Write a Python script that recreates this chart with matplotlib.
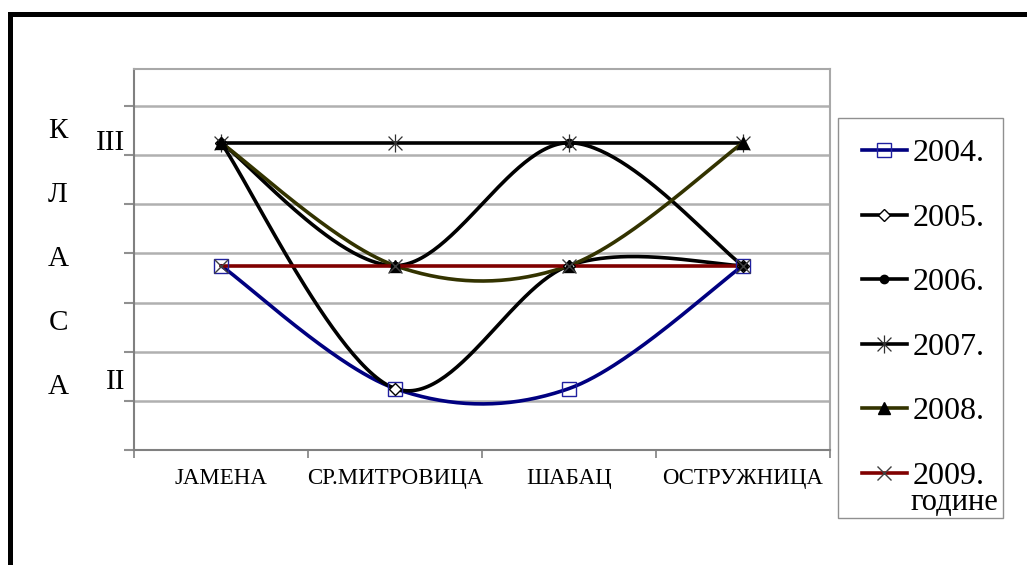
import numpy as np
import matplotlib
matplotlib.use('Agg')
import matplotlib.pyplot as plt
from matplotlib.path import Path
from matplotlib.patches import Rectangle
from matplotlib.ticker import FixedLocator, NullFormatter

plt.rcParams['font.family'] = ['Liberation Serif', 'DejaVu Serif']

cities = ['JAMEHA', 'СР.МИТРОВИЦА', 'ШАБАЦ', 'ОСТРУЖНИЦА']
years = ['2004.', '2005.', '2006.', '2007.', '2008.', '2009.']
# класа: 2 = II, 3 = III, 2.5 = II-III
y2004 = [2.5, 2, 2, 2.5]
y2005 = [3, 2, 2.5, 2.5]
y2006 = [3, 2.5, 3, 2.5]
y2007 = [3, 3, 3, 3]
y2008 = [3, 2.5, 2.5, 3]
y2009 = [2.5, 2.5, 2.5, 2.5]
class_labels = ['II', 'III']
class_values = [2, 3]
grid_vals = [1.75, 1.95, 2.15, 2.35, 2.55, 2.75, 2.95, 3.15]
side_letters = ['К', 'Л', 'А', 'С', 'А']


def smooth(ys, n=60):
    # excel-like catmull-rom bezier smoothing
    pts = np.array([[i, v] for i, v in enumerate(ys)], dtype=float)
    xs_out, ys_out = [], []
    m = len(pts)
    t = np.linspace(0, 1, n)[:, None]
    for i in range(m - 1):
        p0 = pts[max(i - 1, 0)]
        p1 = pts[i]
        p2 = pts[i + 1]
        p3 = pts[min(i + 2, m - 1)]
        c1 = p1 + (p2 - p0) / 6
        c2 = p2 - (p3 - p1) / 6
        b = (1 - t) ** 3 * p1 + 3 * t * (1 - t) ** 2 * c1 + 3 * t ** 2 * (1 - t) * c2 + t ** 3 * p2
        xs_out.extend(b[:, 0])
        ys_out.extend(b[:, 1])
    return np.array(xs_out), np.array(ys_out)


# asterisk marker like excel's star
star = Path([(-1, -1), (1, 1), (-1, 1), (1, -1), (0, -1.3), (0, 1.3)],
            [Path.MOVETO, Path.LINETO, Path.MOVETO, Path.LINETO, Path.MOVETO, Path.LINETO])

fig = plt.figure(figsize=(10.27, 5.65), dpi=100)
ax = fig.add_axes([134 / 1027, 1 - 450 / 565, (830 - 134) / 1027, (450 - 69) / 565])

series = [
    (y2004, '#000080', dict(marker='s', markersize=10, mfc='none', mec='#2020a0', mew=1.0)),
    (y2005, 'black', dict(marker='D', markersize=6, mfc='white', mec='black', mew=1.0)),
    (y2006, 'black', dict(marker='o', markersize=6, mfc='black', mec='black')),
    (y2007, 'black', dict(marker=star, markersize=13, mfc='none', mec='#303030', mew=0.9)),
    (y2008, '#333300', dict(marker='^', markersize=9, mfc='black', mec='black')),
    (y2009, '#800000', dict(marker='x', markersize=10, mec='#404040', mew=1.0)),
]

handles = []
for (ys, col, mk), lab in zip(series, years):
    sx, sy = smooth(ys)
    ax.plot(sx, sy, color=col, lw=2.6, zorder=3, solid_capstyle='round')
    ax.plot(range(len(ys)), ys, ls='none', zorder=4, **mk)
    h, = ax.plot([], [], color=col, lw=2.6, label=lab, **mk)
    handles.append(h)

ax.set_xlim(-0.5, 3.5)
ax.set_ylim(1.75, 3.30)

ax.set_xticks(range(len(cities)))
ax.set_xticklabels(cities, fontsize=16.5)
ax.tick_params(axis='x', which='major', length=0, pad=13)
ax.xaxis.set_minor_locator(FixedLocator([-0.5, 0.5, 1.5, 2.5, 3.5]))
ax.tick_params(axis='x', which='minor', length=6, width=1.2, color='#808080', direction='out')

ax.set_yticks(grid_vals)
ax.yaxis.set_major_formatter(NullFormatter())
ax.tick_params(axis='y', which='major', length=7, width=1.5, color='#909090', direction='out')
for g in grid_vals[1:]:
    ax.axhline(g, color='#b0b0b0', lw=1.8, zorder=1)

for s in ['top', 'right']:
    ax.spines[s].set_color('#a8a8a8')
    ax.spines[s].set_linewidth(1.5)
for s in ['left', 'bottom']:
    ax.spines[s].set_color('#808080')
    ax.spines[s].set_linewidth(1.5)

tr = matplotlib.transforms.blended_transform_factory(ax.transAxes, ax.transData)
ax.text(-0.012, class_values[0] + 0.025, class_labels[0], transform=tr, ha='right', va='center', fontsize=21)
ax.text(-0.012, class_values[1], class_labels[1], transform=tr, ha='right', va='center', fontsize=21)

for i, ch in enumerate(side_letters):
    fig.text(58 / 1027, 1 - (131 + 64 * i) / 565, ch, ha='center', va='center', fontsize=21)

leg = fig.legend(handles=handles, loc='upper left', bbox_to_anchor=(862 / 1027, 1 - 139 / 565),
                 fontsize=23, frameon=False,
                 handlelength=1.4, handletextpad=0.2, labelspacing=1.1,
                 borderpad=0, borderaxespad=0)
fig.patches.append(Rectangle((838 / 1027, 1 - 518 / 565), 165 / 1027, 400 / 565, transform=fig.transFigure,
                             fill=False, edgecolor='#909090', lw=1.0))
fig.text(998 / 1027, 1 - 503 / 565, 'године', ha='right', va='center', fontsize=22)

# thick outer frame
fig.patches.append(Rectangle((9.5 / 1027, -0.2), 1.5, 1.2 - 13.5 / 565, transform=fig.transFigure,
                             fill=False, edgecolor='black', lw=3.6))

fig.savefig('out.png', dpi=100)
